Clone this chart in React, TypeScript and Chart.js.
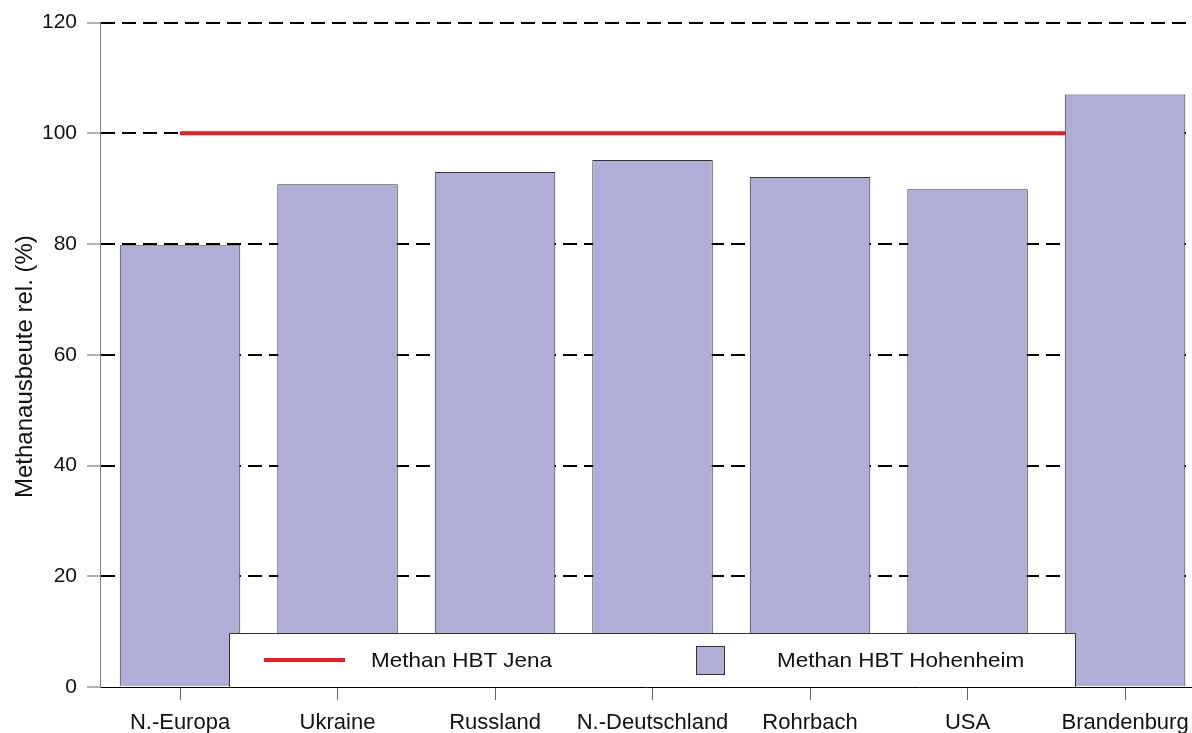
import React, { useEffect, useRef } from 'react';
import { Chart, registerables } from 'chart.js';

Chart.register(...registerables);

const categories = ['N.-Europa', 'Ukraine', 'Russland', 'N.-Deutschland', 'Rohrbach', 'USA', 'Brandenburg'];
const hohenheimValues = [79.8, 90.8, 93.0, 95.2, 92.1, 89.9, 107.0];
const jenaValues = [100, 100, 100, 100, 100, 100, 100];
const yTickValues = [0, 20, 40, 60, 80, 100, 120];
const yTitle = 'Methanausbeute rel. (%)';
const jenaLabel = 'Methan HBT Jena';
const hohenheimLabel = 'Methan HBT Hohenheim';

const BAR_COLOR = '#b0aed6';
const EDGE = '#333333';
const RED = '#ed1c24';
const TEXT = '#111111';
const FONT = '"Liberation Sans", Arial, sans-serif';

const overlayPlugin = {
  id: 'overlay',
  afterDraw(chart: any) {
    const ctx = chart.ctx as CanvasRenderingContext2D;
    const area = chart.chartArea;
    ctx.save();

    // y-axis title
    ctx.save();
    ctx.translate(32, 498);
    ctx.rotate(-Math.PI / 2);
    ctx.font = `24px ${FONT}`;
    ctx.fillStyle = TEXT;
    ctx.textAlign = 'left';
    ctx.textBaseline = 'alphabetic';
    ctx.fillText(yTitle, 0, 0);
    ctx.restore();

    // legend box
    const bx0 = 229.5, bx1 = 1075.5, by0 = 633.5, by1 = area.bottom;
    ctx.fillStyle = '#ffffff';
    ctx.fillRect(bx0, by0, bx1 - bx0, by1 - by0);
    ctx.strokeStyle = EDGE;
    ctx.lineWidth = 1;
    ctx.beginPath();
    ctx.moveTo(bx0, by1);
    ctx.lineTo(bx0, by0);
    ctx.lineTo(bx1, by0);
    ctx.lineTo(bx1, by1);
    ctx.stroke();

    const rowY = 660;
    // red line sample
    ctx.strokeStyle = RED;
    ctx.lineWidth = 4;
    ctx.beginPath();
    ctx.moveTo(264, rowY);
    ctx.lineTo(345, rowY);
    ctx.stroke();

    // bar sample
    ctx.fillStyle = BAR_COLOR;
    ctx.fillRect(696.5, 646.5, 28, 28);
    ctx.strokeStyle = EDGE;
    ctx.lineWidth = 1;
    ctx.strokeRect(696.5, 646.5, 28, 28);

    ctx.font = `21px ${FONT}`;
    ctx.fillStyle = TEXT;
    ctx.textAlign = 'left';
    ctx.textBaseline = 'middle';
    ctx.save();
    ctx.translate(371, rowY + 1);
    ctx.scale(1.07, 1);
    ctx.fillText(jenaLabel, 0, 0);
    ctx.restore();
    ctx.save();
    ctx.translate(777, rowY + 1);
    ctx.scale(1.07, 1);
    ctx.fillText(hohenheimLabel, 0, 0);
    ctx.restore();

    ctx.restore();
  },
};

export default function App() {
  const canvasRef = useRef<HTMLCanvasElement | null>(null);

  useEffect(() => {
    if (!canvasRef.current) return;
    const chart = new Chart(canvasRef.current, {
      type: 'bar',
      data: {
        datasets: [
          {
            type: 'bar',
            label: hohenheimLabel,
            data: hohenheimValues.map((v, i) => ({ x: i + 1, y: v })),
            backgroundColor: BAR_COLOR,
            borderColor: EDGE,
            borderWidth: 1,
            categoryPercentage: 1,
            barPercentage: 0.765,
            order: 1,
          } as any,
          {
            type: 'line',
            label: jenaLabel,
            data: jenaValues.map((v, i) => ({ x: i + 1, y: v })),
            borderColor: RED,
            borderWidth: 4,
            pointRadius: 0,
            fill: false,
            order: 2,
          } as any,
        ],
      },
      options: {
        animation: false,
        responsive: true,
        maintainAspectRatio: false,
        layout: { padding: { top: 21, left: 0, right: 0, bottom: 0 } },
        plugins: {
          legend: { display: false },
          tooltip: { enabled: false },
        },
        scales: {
          x: {
            type: 'linear',
            offset: false,
            min: 0.492,
            max: 7.425,
            afterBuildTicks: (s: any) => {
              s.ticks = categories.map((_, i) => ({ value: i + 1 }));
            },
            afterFit: (s: any) => {
              s.height = 46;
              s.paddingLeft = 0;
              s.paddingRight = 0;
            },
            ticks: {
              callback: (_v: any, index: number) => categories[index] ?? '',
              font: { family: FONT, size: 22 },
              color: TEXT,
              padding: 10,
              maxRotation: 0,
              autoSkip: false,
            },
            grid: {
              offset: false,
              drawOnChartArea: false,
              drawTicks: true,
              tickLength: 13,
              tickColor: '#666666',
              tickWidth: 1,
            },
            border: { display: true, color: '#000000', width: 1 },
          },
          y: {
            min: 0,
            max: 120,
            afterBuildTicks: (s: any) => {
              s.ticks = yTickValues.map((v) => ({ value: v }));
            },
            afterFit: (s: any) => {
              s.width = 100;
            },
            ticks: {
              font: { family: FONT, size: 21 },
              color: TEXT,
              padding: 10,
            },
            grid: {
              color: (c: any) => (c.tick && c.tick.value === 0 ? 'rgba(0,0,0,0)' : '#000000'),
              lineWidth: 2,
              tickLength: 13,
              tickColor: '#666666',
              tickWidth: 1,
              tickBorderDash: [],
            },
            border: { display: true, color: '#808080', width: 1, dash: [14, 7] },
          },
        },
      } as any,
      plugins: [overlayPlugin],
    });
    return () => chart.destroy();
  }, []);

  return (
    <div style={{ position: 'fixed', left: 0, top: 0, width: 1192, height: 733, background: '#fff' }}>
      <canvas ref={canvasRef} />
    </div>
  );
}
